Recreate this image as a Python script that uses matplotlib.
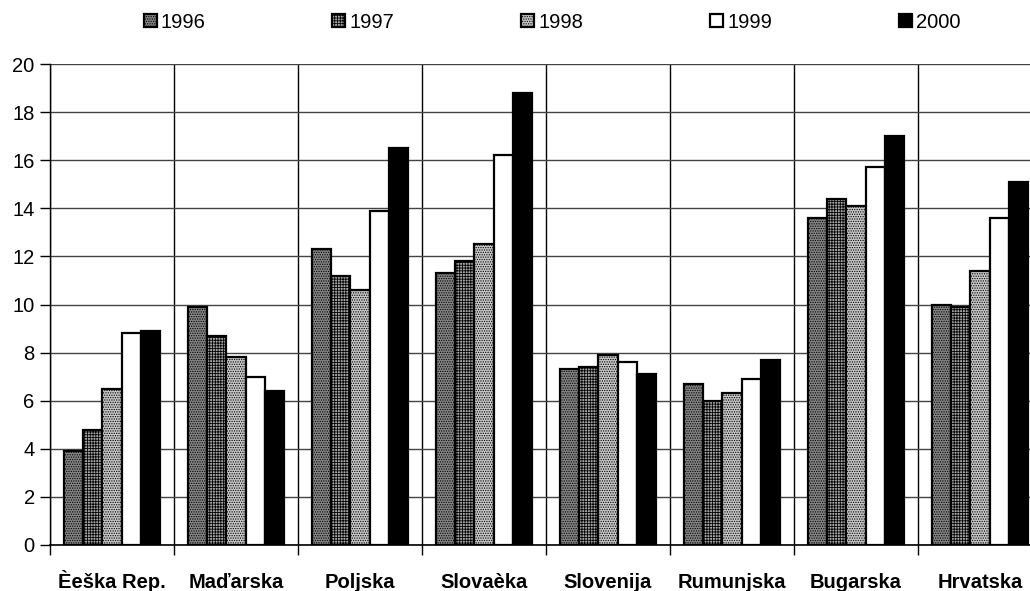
import matplotlib.pyplot as plt
import numpy as np

# zemlje i godine
zemlje = ['Èeška Rep.', 'Maďarska', 'Poljska', 'Slovaèka',
          'Slovenija', 'Rumunjska', 'Bugarska', 'Hrvatska']
godine = ['1996', '1997', '1998', '1999', '2000']

v1996 = [3.9, 9.9, 12.3, 11.3, 7.3, 6.7, 13.6, 10.0]
v1997 = [4.8, 8.7, 11.2, 11.8, 7.4, 6.0, 14.4, 9.9]
v1998 = [6.5, 7.8, 10.6, 12.5, 7.9, 6.3, 14.1, 11.4]
v1999 = [8.8, 7.0, 13.9, 16.2, 7.6, 6.9, 15.7, 13.6]
v2000 = [8.9, 6.4, 16.5, 18.8, 7.1, 7.7, 17.0, 15.1]
serije = [v1996, v1997, v1998, v1999, v2000]

boje = ['#858585', '#a8a8a8', '#c8c8c8', 'white', 'black']
srafure = ['.......', '++++++', '.......', None, None]

plt.rcParams['font.family'] = ['Liberation Sans', 'DejaVu Sans']
plt.rcParams['hatch.linewidth'] = 0.6
plt.rcParams['hatch.color'] = '#333333'

fig = plt.figure(figsize=(10.30, 5.91), dpi=100)
ax = fig.add_axes([50 / 1030, 46 / 591, 992 / 1030, 481 / 591])

x = np.arange(len(zemlje))
sirina = 0.155
for i, (vals, boja, srafura) in enumerate(zip(serije, boje, srafure)):
    ax.bar(x + (i - 2) * sirina, vals, sirina, color=boja, edgecolor='black',
           linewidth=1.6, hatch=srafura, label=godine[i], zorder=3)

# horizontalna i vertikalna mreza
ax.set_ylim(0, 20)
ax.set_yticks(range(0, 21, 2))
ax.set_xlim(-0.5, len(zemlje) - 0.5)
ax.set_xticks(np.arange(-0.5, len(zemlje) + 0.5, 1))
ax.set_xticklabels([])
ax.grid(True, axis='y', color='#444444', linewidth=1.0, zorder=0)
ax.grid(True, axis='x', color='black', linewidth=1.0, zorder=0)
ax.set_axisbelow(True)
ax.tick_params(axis='y', length=7, width=1, labelsize=14.5, pad=4)
ax.tick_params(axis='x', length=7, width=1, direction='out')

for i, z in enumerate(zemlje):
    ax.text(i, -1.8, z, ha='center', va='baseline', fontsize=14.5,
            fontweight='bold')

ax.spines['top'].set_visible(False)
ax.spines['right'].set_visible(False)
ax.spines['left'].set_linewidth(1)
ax.spines['bottom'].set_linewidth(1.2)

handles, labels = ax.get_legend_handles_labels()
leg = fig.legend(handles, labels, loc='center', bbox_to_anchor=(552 / 1030, 1 - 22 / 591),
                 ncol=5, frameon=False, fontsize=14.5, handlelength=0.65,
                 handleheight=0.65, handletextpad=0.2, columnspacing=6.3)

plt.savefig('out.png', dpi=100)
